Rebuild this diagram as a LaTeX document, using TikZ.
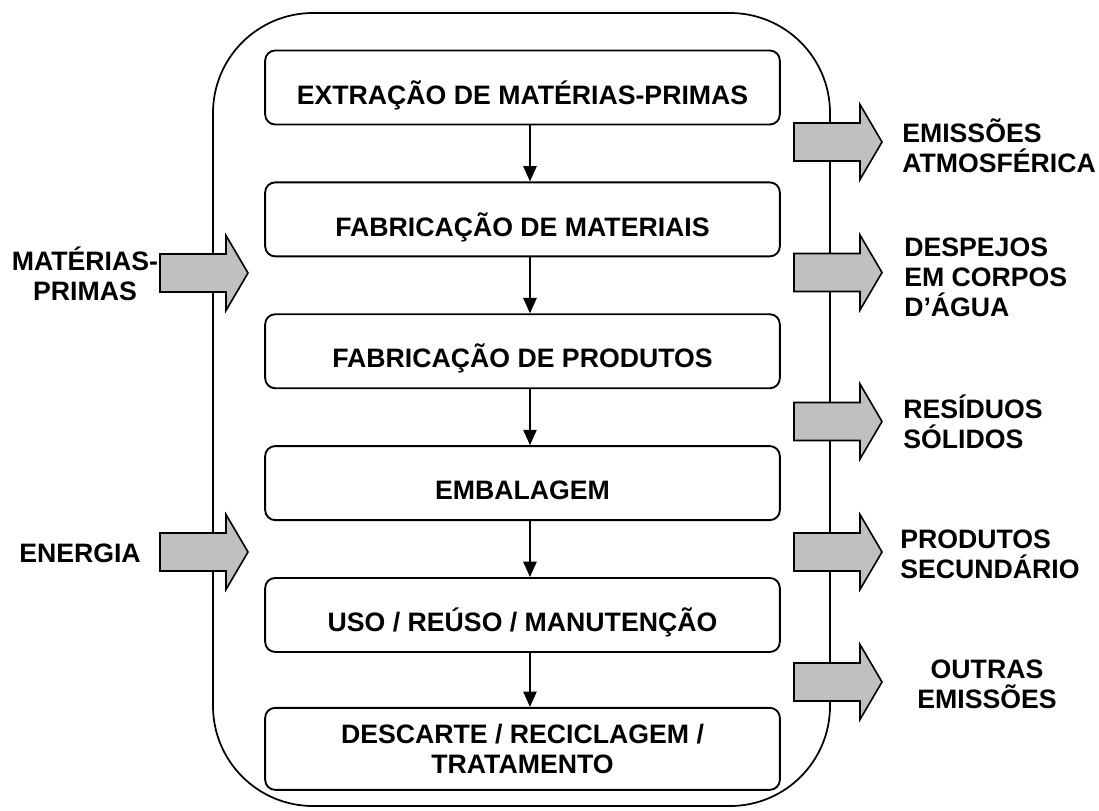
\documentclass[tikz,border=0pt]{standalone}
\usepackage{fontspec}
\setmainfont{Liberation Sans}
\usetikzlibrary{arrows.meta, positioning}

\definecolor{arrowgray}{RGB}{192,192,192}

\tikzset{
    stage/.style={draw, line width=1.4pt, rounded corners=7.5pt, minimum width=386pt,
        minimum height=55.5pt, inner sep=0pt, text height=25pt, text depth=0pt},
    stagetwo/.style={stage, text height=, text depth=, align=center, minimum height=61.5pt},
    link/.style={line width=1.2pt, -{Triangle[width=10pt,length=11.5pt]}},
    frame/.style={line width=1.3pt, rounded corners=75pt},
    bigarrow/.style={draw, line width=1.2pt, fill=arrowgray},
    pics/blockarrow/.style={code={
        \draw[bigarrow] (0,-19) -- (66,-19) -- (66,-37.5) -- (88,0) -- (66,37.5) -- (66,19) -- (0,19) -- cycle;
    }},
    lbl/.style={align=left, anchor=base west, inner sep=0pt},
    lblc/.style={align=center, anchor=base, inner sep=0pt}
}

\begin{document}
\begin{tikzpicture}[x=0.75pt, y=-0.75pt, node distance=42pt,
        font=\fontsize{20}{22.5}\selectfont\bfseries]
        \useasboundingbox (0,0) rectangle (1099,810);

        % Outer frame
        \draw[frame] (213,13) rectangle (830,806);

        % Life cycle stages
        \node[stage] (extr) at (522.5,87.5) {EXTRAÇÃO DE MATÉRIAS-PRIMAS};
        \node[stage, below=of extr] (fabmat) {FABRICAÇÃO DE MATERIAIS};
        \node[stage, below=of fabmat] (fabprod) {FABRICAÇÃO DE PRODUTOS};
        \node[stage, below=of fabprod] (emb) {EMBALAGEM};
        \node[stage, below=of emb] (uso) {USO / REÚSO / MANUTENÇÃO};
        \node[stagetwo, below=40.5pt of uso] (desc) {DESCARTE / RECICLAGEM /\\TRATAMENTO};

        \draw[link] ([xshift=5.6pt]extr.south) -- ([xshift=5.6pt]fabmat.north);
        \draw[link] ([xshift=5.6pt]fabmat.south) -- ([xshift=5.6pt]fabprod.north);
        \draw[link] ([xshift=5.6pt]fabprod.south) -- ([xshift=5.6pt]emb.north);
        \draw[link] ([xshift=5.6pt]emb.south) -- ([xshift=5.6pt]uso.north);
        \draw[link] ([xshift=5.6pt]uso.south) -- ([xshift=5.6pt]desc.north);

        % Inputs
        \pic at (160,273) {blockarrow};
        \pic at (160,552) {blockarrow};
        \node[lblc] (matprim) at (85,300) {MATÉRIAS-\\PRIMAS};
        \node[lblc] (energ) at (80,562) {ENERGIA};

        % Outputs
        \pic at (794,142) {blockarrow};
        \pic at (794,272.5) {blockarrow};
        \pic at (794,421.5) {blockarrow};
        \pic at (794,552) {blockarrow};
        \pic at (794,682) {blockarrow};
        \node[lbl] (emis) at (902,172) {EMISSÕES\\ATMOSFÉRICA};
        \node[lbl] (desp) at (904,316) {DESPEJOS\\EM CORPOS\\D’ÁGUA};
        \node[lbl] (resid) at (903,448) {RESÍDUOS\\SÓLIDOS};
        \node[lbl] (prodsec) at (900,578) {PRODUTOS\\SECUNDÁRIO};
        \node[lblc] (outras) at (987,708) {OUTRAS\\EMISSÕES};
\end{tikzpicture}
\end{document}
